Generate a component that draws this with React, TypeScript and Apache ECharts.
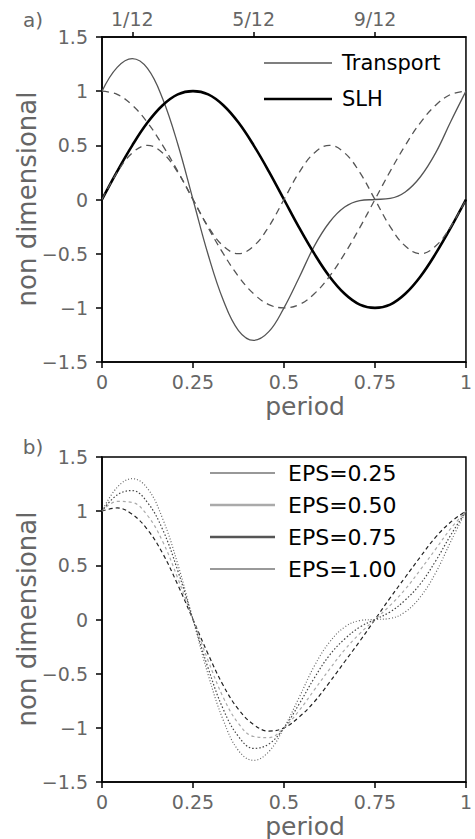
import React, { useEffect, useRef } from "react";
import * as echarts from "echarts";

const PERIOD = [0, 0.0417, 0.0833, 0.125, 0.1667, 0.2083, 0.25, 0.2917, 0.3333, 0.375, 0.4167, 0.4583, 0.5, 0.5417, 0.5833, 0.625, 0.6667, 0.7083, 0.75, 0.7917, 0.8333, 0.875, 0.9167, 0.9583, 1];

// panel a)
const TRANSPORT = [1, 1.22, 1.3, 1.21, 0.93, 0.51, 0, -0.51, -0.93, -1.21, -1.3, -1.22, -1, -0.72, -0.43, -0.21, -0.07, -0.01, 0, 0.01, 0.07, 0.21, 0.43, 0.72, 1];
const SLH = [0, 0.26, 0.5, 0.71, 0.87, 0.97, 1, 0.97, 0.87, 0.71, 0.5, 0.26, 0, -0.26, -0.5, -0.71, -0.87, -0.97, -1, -0.97, -0.87, -0.71, -0.5, -0.26, 0];
const COS_PART = [1, 0.97, 0.87, 0.71, 0.5, 0.26, 0, -0.26, -0.5, -0.71, -0.87, -0.97, -1, -0.97, -0.87, -0.71, -0.5, -0.26, 0, 0.26, 0.5, 0.71, 0.87, 0.97, 1];
const HARM_PART = [0, 0.25, 0.43, 0.5, 0.43, 0.25, 0, -0.25, -0.43, -0.5, -0.43, -0.25, 0, 0.25, 0.43, 0.5, 0.43, 0.25, 0, -0.25, -0.43, -0.5, -0.43, -0.25, 0];

// panel b)
const EPS_025 = [1, 1.03, 0.97, 0.83, 0.61, 0.32, 0, -0.32, -0.61, -0.83, -0.97, -1.03, -1, -0.9, -0.76, -0.58, -0.39, -0.2, 0, 0.2, 0.39, 0.58, 0.76, 0.9, 1];
const EPS_050 = [1, 1.09, 1.08, 0.96, 0.72, 0.38, 0, -0.38, -0.72, -0.96, -1.08, -1.09, -1, -0.84, -0.65, -0.46, -0.28, -0.13, 0, 0.13, 0.28, 0.46, 0.65, 0.84, 1];
const EPS_075 = [1, 1.15, 1.19, 1.08, 0.83, 0.45, 0, -0.45, -0.83, -1.08, -1.19, -1.15, -1, -0.78, -0.54, -0.33, -0.18, -0.07, 0, 0.07, 0.18, 0.33, 0.54, 0.78, 1];
const EPS_100 = [1, 1.22, 1.3, 1.21, 0.93, 0.51, 0, -0.51, -0.93, -1.21, -1.3, -1.22, -1, -0.72, -0.43, -0.21, -0.07, -0.01, 0, 0.01, 0.07, 0.21, 0.43, 0.72, 1];

const TOP_TICKS = [1 / 12, 5 / 12, 9 / 12];
const TOP_TICK_LABELS = ["1/12", "5/12", "9/12"];
const Y_LABEL = "non dimensional";
const X_LABEL = "period";
const LEGEND_A = ["Transport", "SLH"];
const LEGEND_B = ["EPS=0.25", "EPS=0.50", "EPS=0.75", "EPS=1.00"];

const pairs = (ys: number[]) => PERIOD.map((x, i) => [x, ys[i]]);

const LABEL_COLOR = "#666";
const FONT = "'DejaVu Sans', Verdana, sans-serif";

function yFmt(v: number) {
  if (Math.abs(v) < 1e-9) return "0";
  const s = String(Math.abs(v));
  return v < 0 ? "\u2212" + s : s;
}

function bottomAxis(gridIndex: number) {
  return {
    type: "value",
    gridIndex,
    position: "bottom",
    min: 0,
    max: 1,
    interval: 0.25,
    axisLine: { show: true, onZero: false, lineStyle: { color: "#000", width: 1.5 } },
    axisTick: { show: true, inside: false, length: 6, lineStyle: { color: "#000", width: 1.5 } },
    axisLabel: {
      margin: 10,
      fontSize: 19,
      fontFamily: FONT,
      color: LABEL_COLOR,
      formatter: (v: number) => String(v),
    },
    splitLine: { show: false },
  };
}

function leftAxis(gridIndex: number) {
  return {
    type: "value",
    gridIndex,
    min: -1.5,
    max: 1.5,
    interval: 0.5,
    axisLine: { show: true, onZero: false, lineStyle: { color: "#000", width: 1.5 } },
    axisTick: { show: true, inside: false, length: 6, lineStyle: { color: "#000", width: 1.5 } },
    axisLabel: {
      margin: 14,
      fontSize: 19,
      fontFamily: FONT,
      color: LABEL_COLOR,
      formatter: yFmt,
    },
    splitLine: { show: false },
  };
}

function lineSeries(name: string, x: number, y: number, data: number[], color: string, width: number, type: any) {
  return {
    type: "line",
    name,
    xAxisIndex: x,
    yAxisIndex: y,
    data: pairs(data),
    smooth: 0.4,
    showSymbol: false,
    symbol: "none",
    lineStyle: { color, width, type },
    z: 3,
  };
}

export default function App() {
  const ref = useRef<HTMLDivElement>(null);
  useEffect(() => {
    document.body.style.margin = "0";
    if (!ref.current) return;
    const chart = echarts.init(ref.current, undefined, { renderer: "svg" });

    const legendItem = (x0: number, x1: number, y: number, tx: number, text: string, color: string, width: number, size: number) => [
      { type: "line", shape: { x1: x0, y1: y, x2: x1, y2: y }, style: { stroke: color, lineWidth: width } },
      {
        type: "text",
        x: tx,
        y,
        style: { text, fill: "#000", font: `${size}px ${FONT}`, textVerticalAlign: "middle", textAlign: "left" },
      },
    ];

    const option: any = {
      animation: false,
      backgroundColor: "#fff",
      grid: [
        { left: 102, top: 37, width: 372, height: 325, show: true, borderColor: "#000", borderWidth: 1.5, backgroundColor: "transparent" },
        { left: 102, top: 457, width: 372, height: 325, show: true, borderColor: "#000", borderWidth: 1.5, backgroundColor: "transparent" },
      ],
      xAxis: [
        bottomAxis(0),
        {
          type: "value",
          gridIndex: 0,
          position: "top",
          min: 0,
          max: 1,
          axisLine: { show: true, onZero: false, lineStyle: { color: "#000", width: 1.5 } },
          axisTick: { show: true, length: 5, customValues: TOP_TICKS, lineStyle: { color: "#000", width: 1.5 } },
          axisLabel: {
            margin: 9,
            fontSize: 19,
            fontFamily: FONT,
            color: LABEL_COLOR,
            customValues: TOP_TICKS,
            formatter: (v: number) => {
              let best = 0;
              TOP_TICKS.forEach((t, i) => {
                if (Math.abs(t - v) < Math.abs(TOP_TICKS[best] - v)) best = i;
              });
              return TOP_TICK_LABELS[best];
            },
          },
          splitLine: { show: false },
        },
        bottomAxis(1),
      ],
      yAxis: [leftAxis(0), leftAxis(1)],
      series: [
        lineSeries("Transport", 0, 0, TRANSPORT, "#555", 1.3, "solid"),
        lineSeries("SLH", 0, 0, SLH, "#000", 2.6, "solid"),
        lineSeries("cos", 0, 0, COS_PART, "#555", 1.3, [7, 5]),
        lineSeries("harm", 0, 0, HARM_PART, "#555", 1.3, [7, 5]),
        lineSeries(LEGEND_B[0], 2, 1, EPS_025, "#222", 1.2, [4, 3]),
        lineSeries(LEGEND_B[1], 2, 1, EPS_050, "#aaa", 1.2, [3, 3]),
        lineSeries(LEGEND_B[2], 2, 1, EPS_075, "#444", 1.2, [1.5, 2]),
        lineSeries(LEGEND_B[3], 2, 1, EPS_100, "#666", 1.2, [1, 2]),
      ],
      graphic: [
        { type: "text", x: 33, y: 20, style: { text: "a)", fill: "#666", font: `20px ${FONT}`, textAlign: "center", textVerticalAlign: "middle" } },
        { type: "text", x: 33, y: 447, style: { text: "b)", fill: "#666", font: `20px ${FONT}`, textAlign: "center", textVerticalAlign: "middle" } },
        { type: "text", x: 27, y: 199, rotation: Math.PI / 2, style: { text: Y_LABEL, fill: "#666", font: `26px ${FONT}`, textAlign: "center", textVerticalAlign: "middle" } },
        { type: "text", x: 27, y: 619, rotation: Math.PI / 2, style: { text: Y_LABEL, fill: "#666", font: `26px ${FONT}`, textAlign: "center", textVerticalAlign: "middle" } },
        { type: "text", x: 305, y: 406, style: { text: X_LABEL, fill: "#666", font: `25px ${FONT}`, textAlign: "center", textVerticalAlign: "middle" } },
        { type: "text", x: 305, y: 826, style: { text: X_LABEL, fill: "#666", font: `25px ${FONT}`, textAlign: "center", textVerticalAlign: "middle" } },
        ...legendItem(264, 332, 63, 342, LEGEND_A[0], "#555", 1.3, 21),
        ...legendItem(264, 332, 99, 342, LEGEND_A[1], "#000", 2.6, 21),
        ...legendItem(210, 275, 473, 288, LEGEND_B[0], "#333", 1.2, 22),
        ...legendItem(210, 275, 505, 288, LEGEND_B[1], "#aaa", 2.6, 22),
        ...legendItem(210, 275, 537, 288, LEGEND_B[2], "#555", 2.6, 22),
        ...legendItem(210, 275, 569, 288, LEGEND_B[3], "#777", 1.5, 22),
      ],
    };
    chart.setOption(option);
    return () => chart.dispose();
  }, []);
  return <div ref={ref} style={{ width: 475, height: 839 }} />;
}
